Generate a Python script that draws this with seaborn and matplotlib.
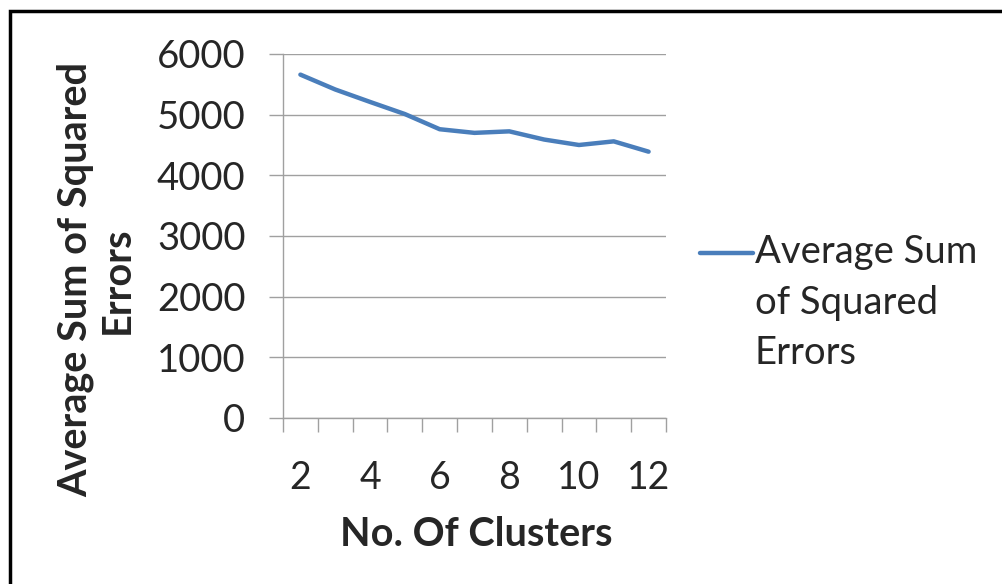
import matplotlib
matplotlib.use('Agg')
import matplotlib.pyplot as plt
import numpy as np
import pandas as pd
import seaborn as sns
from matplotlib.legend_handler import HandlerLine2D
from matplotlib.patches import Rectangle
from matplotlib.ticker import FixedLocator

# Data
clusters = [2, 3, 4, 5, 6, 7, 8, 9, 10, 11, 12]
avg_sse = [5660, 5415, 5210, 5010, 4760, 4700, 4725, 4590, 4500, 4560, 4390]
y_ticks = [0, 1000, 2000, 3000, 4000, 5000, 6000]
x_labels = [2, 4, 6, 8, 10, 12]
series_name = 'Average Sum\nof Squared\nErrors'

df = pd.DataFrame({'clusters': clusters, 'sse': avg_sse})

sns.set_style('white')
plt.rcParams['font.family'] = ['Lato', 'DejaVu Sans']

LINE_BLUE = '#4A7EBB'
GRID_GREY = '#A0A0A0'
FS = 27


class TopLineHandler(HandlerLine2D):
    # put the legend line next to the first text line instead of the middle
    def __init__(self, shift, **kw):
        super().__init__(**kw)
        self.shift = shift

    def create_artists(self, legend, orig_handle, xdescent, ydescent,
                       width, height, fontsize, trans):
        artists = super().create_artists(legend, orig_handle, xdescent, ydescent,
                                         width, height, fontsize, trans)
        for a in artists:
            a.set_ydata(np.asarray(a.get_ydata()) + self.shift)
        return artists


fig = plt.figure(figsize=(10.02, 5.84), dpi=100)
ax = fig.add_axes([283 / 1002, 1 - 418 / 584, (666 - 283) / 1002, (418 - 54) / 584])

sns.lineplot(data=df, x='clusters', y='sse', ax=ax, color=LINE_BLUE,
             linewidth=3.2, label=series_name)

ax.set_xlim(1.5, 12.5)
ax.set_ylim(0, 6000)
ax.set_yticks(y_ticks)
ax.set_xticks(x_labels)
ax.xaxis.set_minor_locator(FixedLocator(np.arange(1.5, 13, 1)))
ax.tick_params(axis='x', which='major', length=0, pad=30, labelsize=FS)
ax.tick_params(axis='x', which='minor', length=10, width=1, color=GRID_GREY,
               direction='out', bottom=True)
ax.tick_params(axis='y', length=10, width=1, color=GRID_GREY, direction='out',
               pad=17, labelsize=FS + 0.5, left=True)
ax.yaxis.grid(True, color=GRID_GREY, linewidth=1)
ax.xaxis.grid(False)
for side in ['top', 'right']:
    ax.spines[side].set_visible(False)
for side in ['left', 'bottom']:
    ax.spines[side].set_color(GRID_GREY)
    ax.spines[side].set_linewidth(1)
ax.set_xlabel('')
ax.set_ylabel('')

line = ax.get_lines()[0]
ax.get_legend().remove()
leg = fig.legend(handles=[line], labels=[series_name], loc='center left',
                 bbox_to_anchor=(700 / 1002, 1 - 303 / 584), frameon=False,
                 fontsize=FS + 0.5, borderpad=0, borderaxespad=0, handlelength=1.38,
                 handletextpad=0.05,
                 handler_map={line: TopLineHandler(shift=37)})
for t in leg.get_texts():
    t.set_linespacing(1.5)

fig.text(96 / 1002, 1 - 280 / 584, 'Average Sum of Squared\nErrors', rotation=90,
         ha='center', va='center', multialignment='center', fontsize=FS + 1.5,
         fontweight='bold', linespacing=1.15)
fig.text(476 / 1002, 1 - 535 / 584, 'No. Of Clusters', ha='center', va='center',
         fontsize=FS + 1.5, fontweight='bold')

# outer frame of the original picture (cut off at right and bottom)
fig.patches.append(Rectangle((9.5 / 1002, -0.2), 1.2, 1.2 - 12 / 584 + 0.001,
                             transform=fig.transFigure, fill=False,
                             edgecolor='black', linewidth=2.5))

fig.savefig('out.png', dpi=100)
